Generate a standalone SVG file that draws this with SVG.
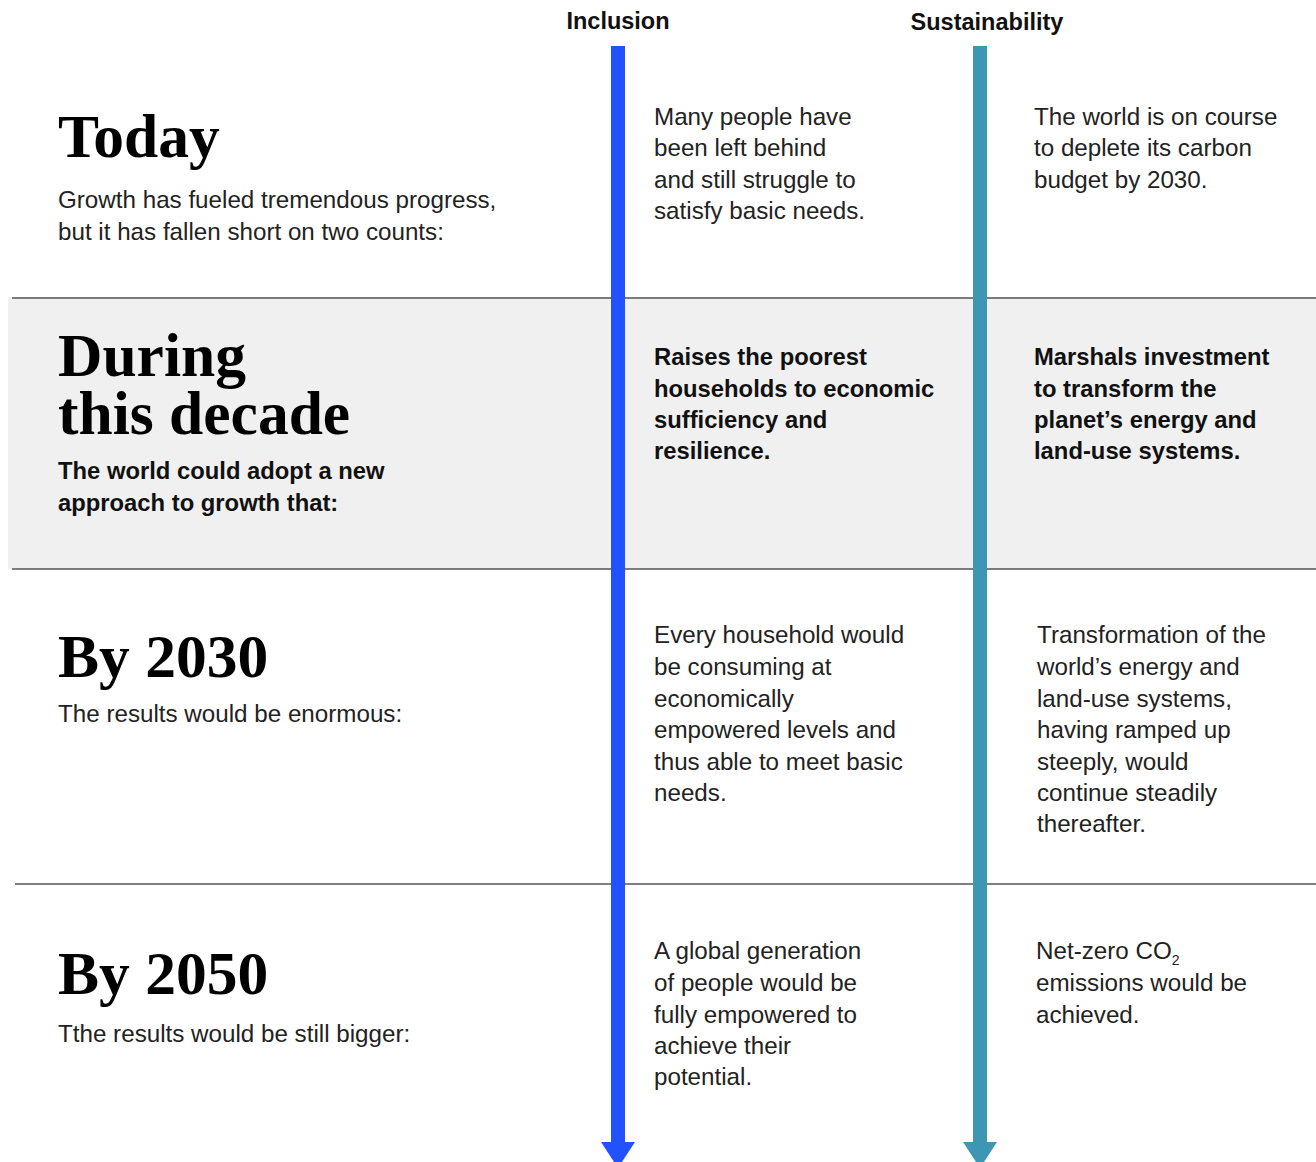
<svg xmlns="http://www.w3.org/2000/svg" width="1316" height="1162" viewBox="0 0 1316 1162">
<style>
.title{font-family:"Liberation Serif","Times New Roman",serif;font-weight:bold;font-size:61.5px;fill:#000}
.body{font-family:"Liberation Sans",Arial,sans-serif;font-size:24.2px;fill:#222}
.bold{font-family:"Liberation Sans",Arial,sans-serif;font-size:23.8px;font-weight:bold;fill:#111}
.head{font-family:"Liberation Sans",Arial,sans-serif;font-size:23.5px;font-weight:bold;fill:#111}
.rule{stroke:#555;stroke-width:1.5}
</style>
<rect id="band" x="8" y="297" width="1308" height="272" fill="#f0f0f0"/>
<g id="rules">
<line class="rule" x1="12" y1="298" x2="1316" y2="298"/>
<line class="rule" x1="12" y1="569" x2="1316" y2="569"/>
<line class="rule" x1="15" y1="884" x2="1316" y2="884"/>
</g>
<g id="connectors">
<rect x="611" y="46" width="14" height="1097" fill="#2251ff"/>
<polygon points="601,1142 635,1142 618,1168" fill="#2251ff"/>
<rect x="973" y="46" width="14" height="1097" fill="#3c96b4"/>
<polygon points="963,1142 997,1142 980,1168" fill="#3c96b4"/>
</g>
<g id="headers">
<text class="head" x="618" y="29" text-anchor="middle">Inclusion</text>
<text class="head" x="987" y="30" text-anchor="middle">Sustainability</text>
</g>
<g id="row-today">
<text class="title" x="58" y="157">Today</text>
<text class="body" x="58" y="208">Growth has fueled tremendous progress,</text>
<text class="body" x="58" y="240">but it has fallen short on two counts:</text>
<text class="body" x="654" y="125">Many people have</text>
<text class="body" x="654" y="156">been left behind</text>
<text class="body" x="654" y="188">and still struggle to</text>
<text class="body" x="654" y="219">satisfy basic needs.</text>
<text class="body" x="1034" y="125">The world is on course</text>
<text class="body" x="1034" y="156">to deplete its carbon</text>
<text class="body" x="1034" y="188">budget by 2030.</text>
</g>
<g id="row-decade">
<text class="title" x="58" y="376">During</text>
<text class="title" x="58" y="434">this decade</text>
<text class="bold" x="58" y="479">The world could adopt a new</text>
<text class="bold" x="58" y="511">approach to growth that:</text>
<text class="bold" x="654" y="365">Raises the poorest</text>
<text class="bold" x="654" y="397">households to economic</text>
<text class="bold" x="654" y="428">sufficiency and</text>
<text class="bold" x="654" y="459">resilience.</text>
<text class="bold" x="1034" y="365">Marshals investment</text>
<text class="bold" x="1034" y="397">to transform the</text>
<text class="bold" x="1034" y="428">planet’s energy and</text>
<text class="bold" x="1034" y="459">land-use systems.</text>
</g>
<g id="row-2030">
<text class="title" x="58" y="677">By 2030</text>
<text class="body" x="58" y="722">The results would be enormous:</text>
<text class="body" x="654" y="643">Every household would</text>
<text class="body" x="654" y="675">be consuming at</text>
<text class="body" x="654" y="707">economically</text>
<text class="body" x="654" y="738">empowered levels and</text>
<text class="body" x="654" y="770">thus able to meet basic</text>
<text class="body" x="654" y="801">needs.</text>
<text class="body" x="1037" y="643">Transformation of the</text>
<text class="body" x="1037" y="675">world’s energy and</text>
<text class="body" x="1037" y="707">land-use systems,</text>
<text class="body" x="1037" y="738">having ramped up</text>
<text class="body" x="1037" y="770">steeply, would</text>
<text class="body" x="1037" y="801">continue steadily</text>
<text class="body" x="1037" y="832">thereafter.</text>
</g>
<g id="row-2050">
<text class="title" x="58" y="994">By 2050</text>
<text class="body" x="58" y="1042">Tthe results would be still bigger:</text>
<text class="body" x="654" y="959">A global generation</text>
<text class="body" x="654" y="991">of people would be</text>
<text class="body" x="654" y="1023">fully empowered to</text>
<text class="body" x="654" y="1054">achieve their</text>
<text class="body" x="654" y="1085">potential.</text>
<text class="body" x="1036" y="959">Net-zero CO<tspan font-size="14" dy="6">2</tspan></text>
<text class="body" x="1036" y="991">emissions would be</text>
<text class="body" x="1036" y="1023">achieved.</text>
</g>
</svg>
